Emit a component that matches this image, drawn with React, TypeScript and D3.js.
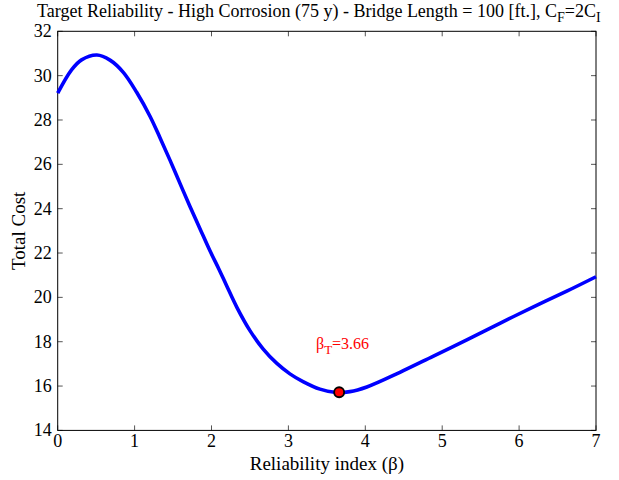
import React, { useEffect, useRef } from "react";
import * as d3 from "d3";

// Reliability index (beta) and total cost
const beta = [0, 0.18, 0.31, 0.51, 0.68, 0.853, 1.027, 1.2, 1.33, 1.46, 1.59, 1.72, 1.85, 1.98, 2.1, 2.2, 2.33, 2.5, 2.67, 2.85, 3.02, 3.19, 3.41, 3.6, 3.8, 4.02, 4.45, 4.88, 5.32, 5.75, 6.18, 6.62, 7.0];
const totalCost = [29.21, 30.26, 30.71, 30.93, 30.7, 30.15, 29.25, 28.17, 27.2, 26.19, 25.14, 24.1, 23.1, 22.1, 21.25, 20.5, 19.55, 18.5, 17.68, 17.02, 16.55, 16.2, 15.86, 15.72, 15.75, 15.96, 16.62, 17.34, 18.08, 18.83, 19.56, 20.28, 20.93];

const targetBeta = 3.66;
const targetCost = 15.72;

const xTicks = [0, 1, 2, 3, 4, 5, 6, 7];
const yTicks = [14, 16, 18, 20, 22, 24, 26, 28, 30, 32];

const App = () => {
  const svgRef = useRef<SVGSVGElement>(null);

  useEffect(() => {
    const svg = d3.select(svgRef.current);
    svg.selectAll("*").remove();

    const width = 619;
    const height = 480;
    const margin = { top: 31.3, right: 23, bottom: 49.6, left: 57.7 };
    const font = "'Liberation Serif', 'Times New Roman', serif";

    const x = d3.scaleLinear().domain([0, 7]).range([margin.left, width - margin.right]);
    const y = d3.scaleLinear().domain([14, 32]).range([height - margin.bottom, margin.top]);

    svg.attr("width", width).attr("height", height);

    const g = svg.append("g");

    // ticks on all four sides, pointing inward
    const tl = 5;
    xTicks.forEach(t => {
      g.append("line").attr("x1", x(t)).attr("x2", x(t)).attr("y1", y(14)).attr("y2", y(14) - tl).attr("stroke", "#555");
      g.append("line").attr("x1", x(t)).attr("x2", x(t)).attr("y1", y(32)).attr("y2", y(32) + tl).attr("stroke", "#555");
      g.append("text").attr("x", x(t)).attr("y", y(14) + 17).attr("text-anchor", "middle")
        .style("font-family", font).style("font-size", "18px").text(t);
    });
    yTicks.forEach(t => {
      g.append("line").attr("x1", x(0)).attr("x2", x(0) + tl).attr("y1", y(t)).attr("y2", y(t)).attr("stroke", "#555");
      g.append("line").attr("x1", x(7)).attr("x2", x(7) - tl).attr("y1", y(t)).attr("y2", y(t)).attr("stroke", "#555");
      g.append("text").attr("x", x(0) - 6).attr("y", y(t) + 6).attr("text-anchor", "end")
        .style("font-family", font).style("font-size", "18px").text(t);
    });

    // axes box
    g.append("rect")
      .attr("x", x(0)).attr("y", y(32))
      .attr("width", x(7) - x(0)).attr("height", y(14) - y(32))
      .attr("fill", "none").attr("stroke", "black").attr("stroke-width", 1);

    const pts = beta.map((b, i) => [b, totalCost[i]] as [number, number]);
    const line = d3.line<[number, number]>()
      .x(d => x(d[0]))
      .y(d => y(d[1]))
      .curve(d3.curveCatmullRom.alpha(0.5));

    g.append("path")
      .attr("d", line(pts))
      .attr("fill", "none")
      .attr("stroke", "#0000ff")
      .attr("stroke-width", 3.6);

    g.append("circle")
      .attr("cx", x(targetBeta)).attr("cy", y(targetCost)).attr("r", 5)
      .attr("fill", "#ff0000").attr("stroke", "black").attr("stroke-width", 1.8);

    const lab = g.append("text")
      .attr("x", 316).attr("y", 349)
      .style("font-family", font).style("font-size", "16px").attr("fill", "#ff0000");
    lab.append("tspan").text("β");
    lab.append("tspan").attr("dy", 5).attr("font-size", "13px").text("T");
    lab.append("tspan").attr("dy", -5).text("=3.66");

    // title
    const title = svg.append("text")
      .attr("x", (x(0) + x(7)) / 2 - 8).attr("y", 17).attr("text-anchor", "middle")
      .style("font-family", font).style("font-size", "18px");
    title.append("tspan").text("Target Reliability - High Corrosion (75 y) - Bridge Length = 100 [ft.], C");
    title.append("tspan").attr("dy", 5).attr("font-size", "14px").text("F");
    title.append("tspan").attr("dy", -5).text("=2C");
    title.append("tspan").attr("dy", 5).attr("font-size", "14px").text("I");

    svg.append("text")
      .attr("x", (x(0) + x(7)) / 2).attr("y", 470).attr("text-anchor", "middle")
      .style("font-family", font).style("font-size", "19px")
      .text("Reliability index (β)");

    svg.append("text")
      .attr("transform", `translate(25, ${(y(14) + y(32)) / 2}) rotate(-90)`)
      .attr("text-anchor", "middle")
      .style("font-family", font).style("font-size", "19px")
      .text("Total Cost");
  }, []);

  return <svg ref={svgRef} style={{ position: "absolute", left: 0, top: 0 }} />;
};

export default App;
